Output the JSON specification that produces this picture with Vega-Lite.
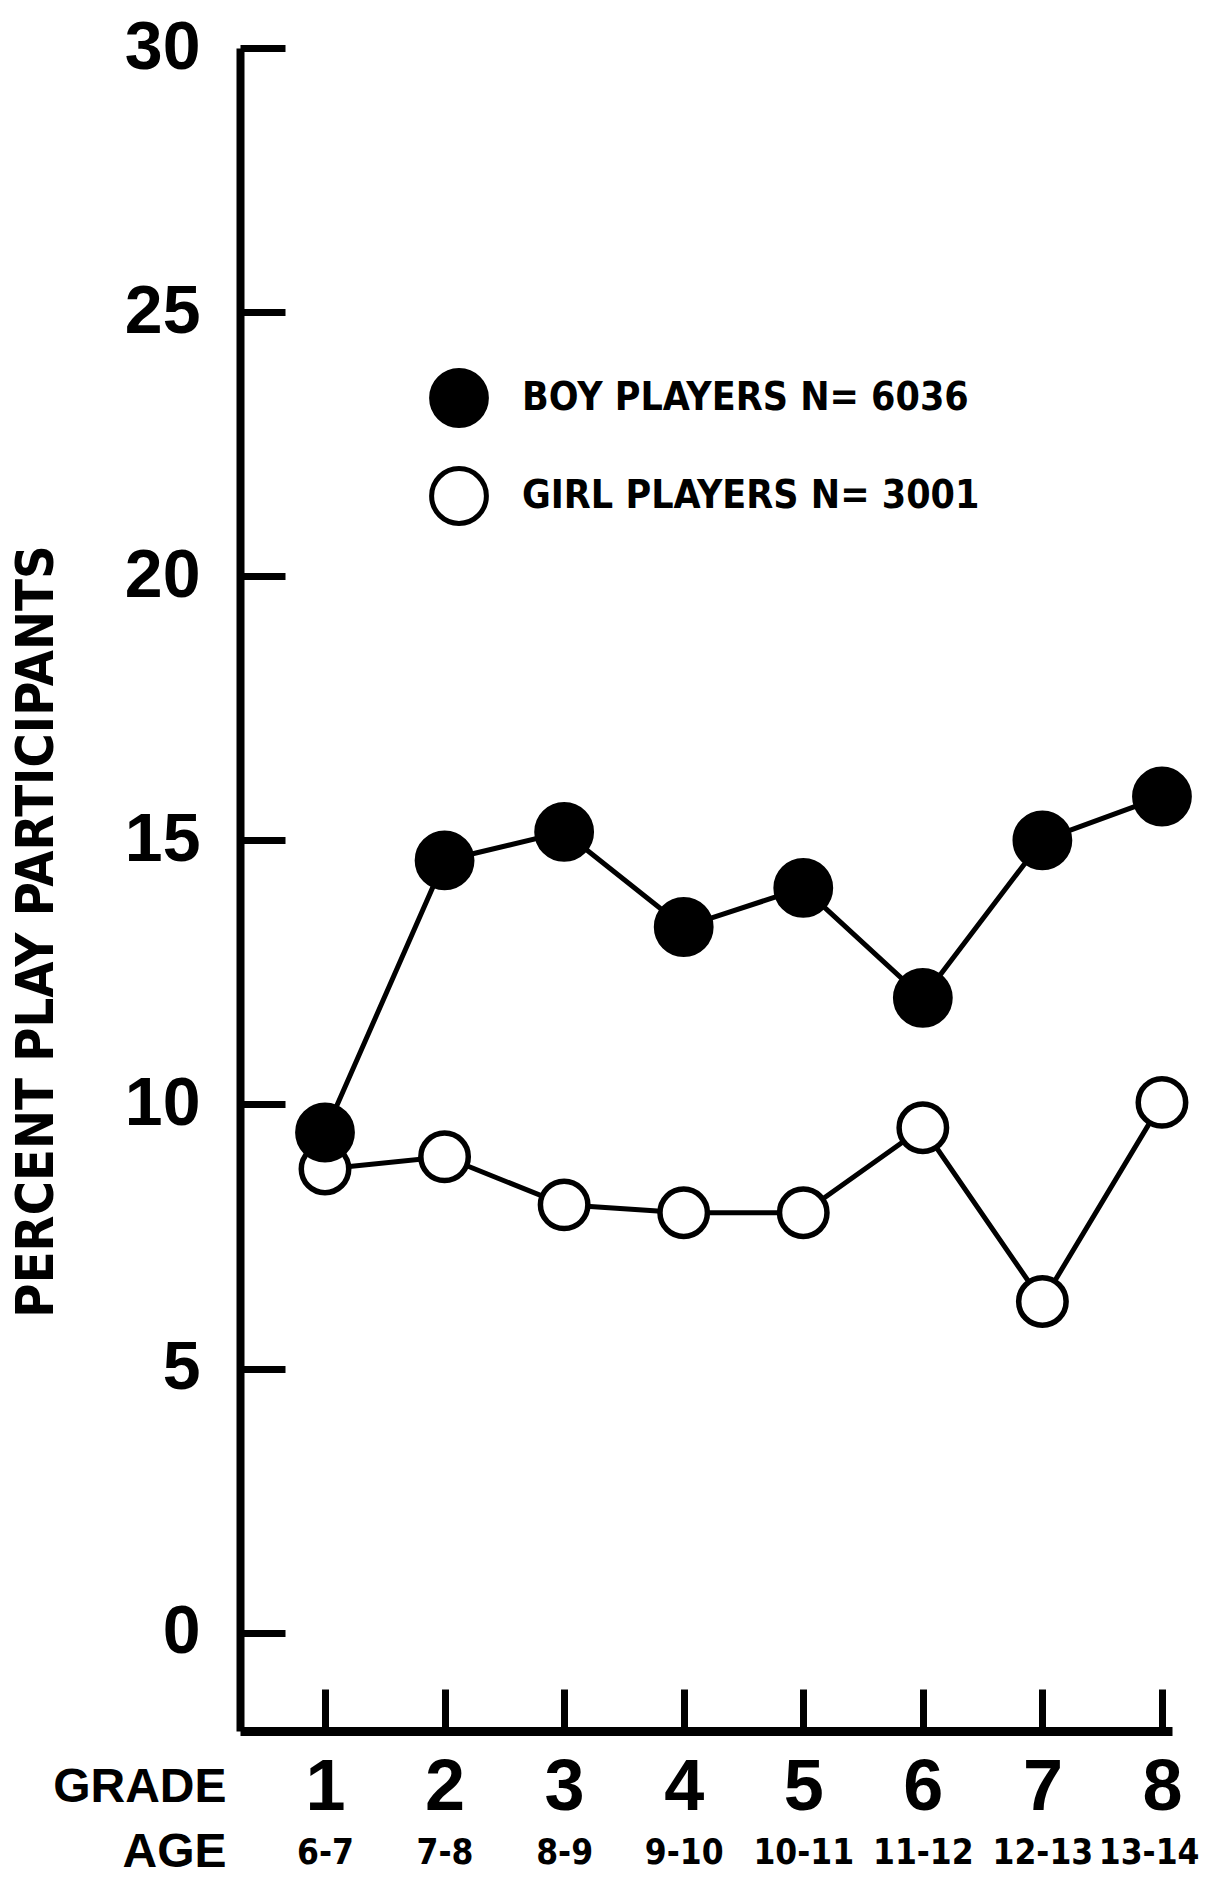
{
  "$schema": "https://vega.github.io/schema/vega-lite/v6.json",
  "width": 932,
  "height": 1683,
  "autosize": "none",
  "padding": {"left": 240, "top": 48, "right": 38, "bottom": 165},
  "background": "white",
  "config": {"view": {"stroke": null}, "font": "Liberation Sans"},
  "data": {
    "values": [
      {"series": "GIRL PLAYERS  N= 3001", "grade": 1, "age": "6-7", "pct": 8.78},
      {"series": "GIRL PLAYERS  N= 3001", "grade": 2, "age": "7-8", "pct": 9.01},
      {"series": "GIRL PLAYERS  N= 3001", "grade": 3, "age": "8-9", "pct": 8.1},
      {"series": "GIRL PLAYERS  N= 3001", "grade": 4, "age": "9-10", "pct": 7.95},
      {"series": "GIRL PLAYERS  N= 3001", "grade": 5, "age": "10-11", "pct": 7.95},
      {"series": "GIRL PLAYERS  N= 3001", "grade": 6, "age": "11-12", "pct": 9.56},
      {"series": "GIRL PLAYERS  N= 3001", "grade": 7, "age": "12-13", "pct": 6.27},
      {"series": "GIRL PLAYERS  N= 3001", "grade": 8, "age": "13-14", "pct": 10.04},
      {"series": "BOY PLAYERS  N= 6036", "grade": 1, "age": "6-7", "pct": 9.47},
      {"series": "BOY PLAYERS  N= 6036", "grade": 2, "age": "7-8", "pct": 14.62},
      {"series": "BOY PLAYERS  N= 6036", "grade": 3, "age": "8-9", "pct": 15.16},
      {"series": "BOY PLAYERS  N= 6036", "grade": 4, "age": "9-10", "pct": 13.36},
      {"series": "BOY PLAYERS  N= 6036", "grade": 5, "age": "10-11", "pct": 14.1},
      {"series": "BOY PLAYERS  N= 6036", "grade": 6, "age": "11-12", "pct": 12.02},
      {"series": "BOY PLAYERS  N= 6036", "grade": 7, "age": "12-13", "pct": 15.0},
      {"series": "BOY PLAYERS  N= 6036", "grade": 8, "age": "13-14", "pct": 15.83}
    ]
  },
  "resolve": {"axis": {"x": "independent"}},
  "layer": [
    {
      "mark": {"type": "line", "color": "black", "strokeWidth": 5},
      "encoding": {
        "x": {
          "field": "grade", "type": "quantitative",
          "scale": {"domain": [0.289, 8.084], "nice": false, "zero": false},
          "axis": {
            "orient": "bottom",
            "values": [1, 2, 3, 4, 5, 6, 7, 8],
            "domain": false, "ticks": false, "grid": false,
            "labelExpr": "['','6-7','7-8','8-9','9-10','10-11','11-12','12-13','13-14'][datum.value]",
            "labelFont": "DejaVu Sans Condensed, Liberation Sans", "labelFontWeight": "bold", "labelFontSize": 35,
            "labelColor": "black", "labelBaseline": "middle", "labelPadding": 121,
            "labelFlush": 20, "labelFlushOffset": 37, "labelOverlap": false,
            "title": "AGE", "titleX": -14, "titleY": 121, "titleAlign": "right", "titleBaseline": "middle",
            "titleFont": "Liberation Sans", "titleFontWeight": "bold", "titleFontSize": 48, "titleColor": "black"
          }
        },
        "y": {
          "field": "pct", "type": "quantitative",
          "scale": {"domain": [-1.86, 30], "nice": false, "zero": false},
          "axis": {
            "values": [0, 5, 10, 15, 20, 25, 30],
            "grid": false,
            "domainColor": "black", "domainWidth": 8,
            "tickColor": "black", "tickWidth": 7, "tickSize": -45,
            "labelFont": "Liberation Sans", "labelFontWeight": "bold", "labelFontSize": 68,
            "labelColor": "black", "labelPadding": 85, "labelFlush": false, "labelOverlap": false,
            "title": "PERCENT PLAY PARTICIPANTS",
            "titleX": -204, "titleY": 883, "titleAngle": -90, "titleAlign": "center", "titleBaseline": "middle",
            "titleFont": "DejaVu Sans Condensed, Liberation Sans", "titleFontWeight": "bold", "titleFontSize": 52, "titleColor": "black"
          }
        },
        "detail": {"field": "series"}
      }
    },
    {
      "transform": [{"filter": "indexof(datum.series, 'GIRL') == 0"}],
      "mark": {"type": "point", "filled": true, "stroke": "black", "strokeWidth": 5.5, "opacity": 1, "size": 2250},
      "encoding": {
        "x": {
          "field": "grade", "type": "quantitative",
          "scale": {"domain": [0.289, 8.084], "nice": false, "zero": false},
          "axis": {
            "orient": "bottom",
            "values": [1, 2, 3, 4, 5, 6, 7, 8], "format": "d",
            "grid": false,
            "domainColor": "black", "domainWidth": 9,
            "tickColor": "black", "tickWidth": 7, "tickSize": -42,
            "labelFont": "Liberation Sans", "labelFontWeight": "bold", "labelFontSize": 72,
            "labelColor": "black", "labelBaseline": "middle", "labelPadding": 98,
            "labelFlush": false, "labelOverlap": false,
            "title": "GRADE", "titleX": -14, "titleY": 56, "titleAlign": "right", "titleBaseline": "middle",
            "titleFont": "Liberation Sans", "titleFontWeight": "bold", "titleFontSize": 48, "titleColor": "black"
          }
        },
        "y": {"field": "pct", "type": "quantitative", "scale": {"domain": [-1.86, 30], "nice": false, "zero": false}},
        "fill": {
          "field": "series", "type": "nominal",
          "scale": {"domain": ["BOY PLAYERS  N= 6036", "GIRL PLAYERS  N= 3001"], "range": ["black", "white"]},
          "legend": {
            "orient": "none", "legendX": 189, "legendY": 320,
            "title": null, "padding": 0,
            "symbolType": "circle", "symbolSize": 3000,
            "symbolStrokeColor": "black", "symbolStrokeWidth": 5,
            "labelFont": "DejaVu Sans Condensed, Liberation Sans", "labelFontWeight": "bold", "labelFontSize": 39,
            "labelColor": "black", "labelOffset": 33, "labelLimit": 0, "rowPadding": 22,
            "encode": {"symbols": {"update": {"stroke": {"value": "black"}, "strokeWidth": {"value": 5}, "opacity": {"value": 1}}}}
          }
        }
      }
    },
    {
      "transform": [{"filter": "indexof(datum.series, 'BOY') == 0"}],
      "mark": {"type": "point", "filled": true, "stroke": "black", "strokeWidth": 5.5, "opacity": 1, "size": 2950},
      "encoding": {
        "x": {"field": "grade", "type": "quantitative", "scale": {"domain": [0.289, 8.084], "nice": false, "zero": false}, "axis": null},
        "y": {"field": "pct", "type": "quantitative", "scale": {"domain": [-1.86, 30], "nice": false, "zero": false}},
        "fill": {"field": "series", "type": "nominal"}
      }
    }
  ]
}
